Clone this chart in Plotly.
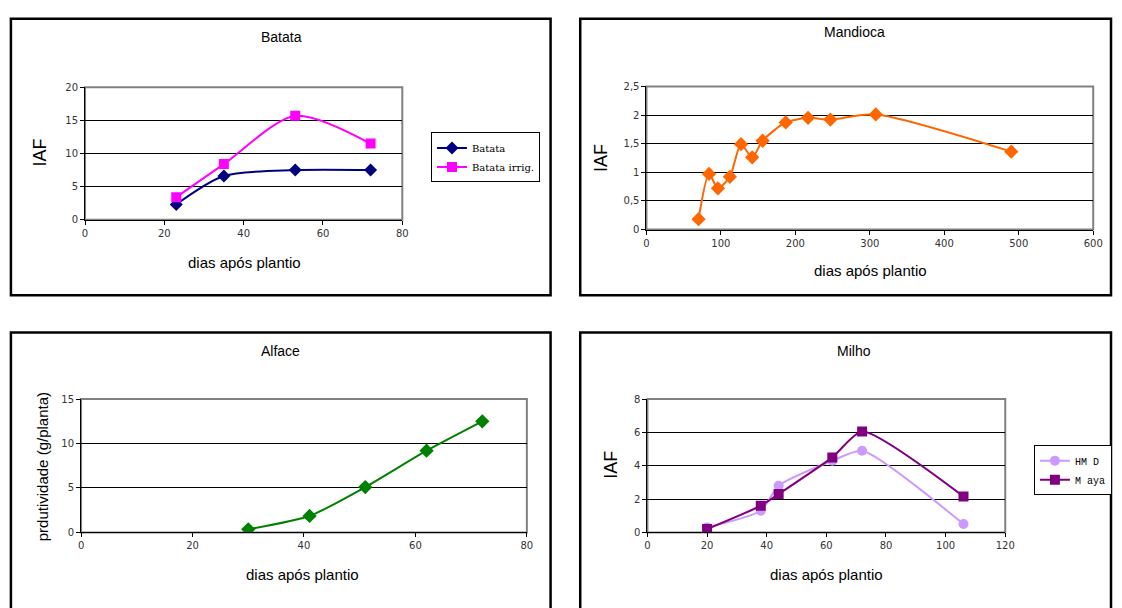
import plotly.graph_objects as go

W, H = 1122, 608

# ---------------- data ----------------
batata_x = [23, 35, 53, 72]
batata_y = [2.3, 6.6, 7.5, 7.5]
batata_irrig_x = [23, 35, 53, 72]
batata_irrig_y = [3.4, 8.4, 15.7, 11.5]

mandioca_x = [70, 84, 96, 112, 127, 142, 156, 187, 217, 247, 308, 490]
mandioca_y = [0.18, 0.97, 0.72, 0.92, 1.49, 1.26, 1.55, 1.87, 1.95, 1.92, 2.01, 1.36]

alface_x = [30, 41, 51, 62, 72]
alface_y = [0.35, 1.85, 5.1, 9.2, 12.5]

hmd_x = [20, 38, 44, 62, 72, 106]
hmd_y = [0.3, 1.3, 2.8, 4.3, 4.9, 0.5]
maya_x = [20, 38, 44, 62, 72, 106]
maya_y = [0.2, 1.6, 2.3, 4.5, 6.05, 2.15]

titles = ["Batata", "Mandioca", "Alface", "Milho"]
xtitle = "dias após plantio"
ytitles = ["IAF", "IAF", "prdutividade (g/planta)", "IAF"]


def px(x):
    return x / W


def py(y):
    return 1 - y / H


fig = go.Figure()

# Traces
fig.add_trace(go.Scatter(x=batata_x, y=batata_y, name="Batata", mode="lines+markers",
                         line=dict(color="#000080", width=2, shape="spline", smoothing=0.8),
                         marker=dict(symbol="diamond", size=10, color="#000080"),
                         xaxis="x", yaxis="y", legend="legend"))
fig.add_trace(go.Scatter(x=batata_irrig_x, y=batata_irrig_y, name="Batata irrig.", mode="lines+markers",
                         line=dict(color="#FF00FF", width=2, shape="spline", smoothing=0.8),
                         marker=dict(symbol="square", size=10, color="#FF00FF"),
                         xaxis="x", yaxis="y", legend="legend"))
fig.add_trace(go.Scatter(x=mandioca_x, y=mandioca_y, name="Mandioca", mode="lines+markers",
                         line=dict(color="#FF6600", width=2, shape="spline", smoothing=0.7),
                         marker=dict(symbol="diamond", size=11, color="#FF6600"),
                         xaxis="x2", yaxis="y2", showlegend=False))
fig.add_trace(go.Scatter(x=alface_x, y=alface_y, name="Alface", mode="lines+markers",
                         line=dict(color="#008000", width=2, shape="spline", smoothing=0.6),
                         marker=dict(symbol="diamond", size=11, color="#008000"),
                         xaxis="x3", yaxis="y3", showlegend=False))
fig.add_trace(go.Scatter(x=hmd_x, y=hmd_y, name="HM D", mode="lines+markers",
                         line=dict(color="#CC99FF", width=2, shape="spline", smoothing=0.6),
                         marker=dict(symbol="circle", size=10, color="#CC99FF"),
                         xaxis="x4", yaxis="y4", legend="legend2"))
fig.add_trace(go.Scatter(x=maya_x, y=maya_y, name="M aya", mode="lines+markers",
                         line=dict(color="#800080", width=2, shape="spline", smoothing=0.6),
                         marker=dict(symbol="square", size=10, color="#800080"),
                         xaxis="x4", yaxis="y4", legend="legend2"))

tickfont = dict(family="DejaVu Sans, Liberation Sans, sans-serif", size=10, color="#333")


def xaxis(dom, rng, dt, anchor):
    return dict(domain=dom, range=rng, dtick=dt, tick0=0, anchor=anchor, showgrid=False,
                zeroline=False, showline=True, linecolor="black", linewidth=1,
                ticks="outside", ticklen=4, tickcolor="black", tickfont=tickfont,
                fixedrange=True)


def yaxis(dom, rng, dt, anchor):
    return dict(domain=dom, range=rng, dtick=dt, tick0=0, anchor=anchor, showgrid=True,
                gridcolor="black", gridwidth=1, zeroline=False, showline=True,
                linecolor="black", linewidth=1, ticks="outside", ticklen=4,
                tickcolor="black", tickfont=tickfont, fixedrange=True)


# plot areas in pixels: (x0, x1, ytop, ybottom)
areas = [(83, 404, 83, 218), (651, 1103, 82, 228), (79, 530, 401, 537), (652, 1014, 401, 537)]
doms = [([px(a[0]), px(a[1])], [py(a[3]), py(a[2])]) for a in areas]

fig.update_layout(
    xaxis=xaxis(doms[0][0], [0, 80], 20, "y"),
    yaxis=yaxis(doms[0][1], [0, 20], 5, "x"),
    xaxis2=xaxis(doms[1][0], [0, 600], 100, "y2"),
    yaxis2=yaxis(doms[1][1], [0, 2.5], 0.5, "x2"),
    xaxis3=xaxis(doms[2][0], [0, 80], 20, "y3"),
    yaxis3=yaxis(doms[2][1], [0, 15], 5, "x3"),
    xaxis4=xaxis(doms[3][0], [0, 120], 20, "y4"),
    yaxis4=yaxis(doms[3][1], [0, 8], 2, "x4"),
)

shapes = []
# panel frames
panels = [(8, 554, 13, 295), (584, 1121, 13, 295), (8, 554, 333, 640), (584, 1121, 333, 640)]
for (x0, x1, y0, y1) in panels:
    shapes.append(dict(type="rect", xref="paper", yref="paper",
                       x0=px(x0), x1=px(x1), y0=py(y1), y1=py(y0),
                       line=dict(color="black", width=2.5), fillcolor="rgba(0,0,0,0)"))
# gray plot-area frames
for i in range(4):
    suf = "" if i == 0 else str(i + 1)
    shapes.append(dict(type="rect", xref=f"x{suf} domain", yref=f"y{suf} domain",
                       x0=0, x1=1, y0=0, y1=1, layer="below",
                       line=dict(color="#808080", width=2), fillcolor="rgba(0,0,0,0)"))

annotations = []
title_pos = [(282, 32), (861, 27), (281, 352), (861, 352)]
xt_pos = [(244, 262), (878, 270), (303, 580), (833, 580)]
yt_pos = [(37, 150), (605, 155), (40, 470), (615, 468)]
yt_size = [18, 18, 15, 18]
for i in range(4):
    annotations.append(dict(text=titles[i], x=px(title_pos[i][0]), y=py(title_pos[i][1]),
                            xref="paper", yref="paper", showarrow=False,
                            xanchor="center", yanchor="middle",
                            font=dict(family="Liberation Sans, Arial", size=14, color="black")))
    annotations.append(dict(text=xtitle, x=px(xt_pos[i][0]), y=py(xt_pos[i][1]),
                            xref="paper", yref="paper", showarrow=False,
                            xanchor="center", yanchor="middle",
                            font=dict(family="Liberation Sans, Arial", size=15, color="black")))
    annotations.append(dict(text=ytitles[i], x=px(yt_pos[i][0]), y=py(yt_pos[i][1]),
                            xref="paper", yref="paper", showarrow=False, textangle=-90,
                            xanchor="center", yanchor="middle",
                            font=dict(family="Liberation Sans, Arial", size=yt_size[i], color="black")))

legfont = dict(family="DejaVu Serif, Liberation Serif, serif", size=10, color="black")
legfont2 = dict(family="Liberation Mono, DejaVu Sans Mono, monospace", size=10, color="black")
fig.update_layout(
    width=W, height=H, margin=dict(l=0, r=0, t=0, b=0),
    paper_bgcolor="white", plot_bgcolor="white",
    separators=",.",
    shapes=shapes, annotations=annotations,
    legend=dict(x=px(433), y=py(129), xanchor="left", yanchor="top",
                bordercolor="black", borderwidth=1, bgcolor="white", font=legfont,
                tracegroupgap=0, itemwidth=30),
    legend2=dict(x=px(1043), y=py(448), xanchor="left", yanchor="top",
                 bordercolor="black", borderwidth=1, bgcolor="white", font=legfont2,
                 tracegroupgap=0, itemwidth=30),
)

fig.write_html("out.html")
